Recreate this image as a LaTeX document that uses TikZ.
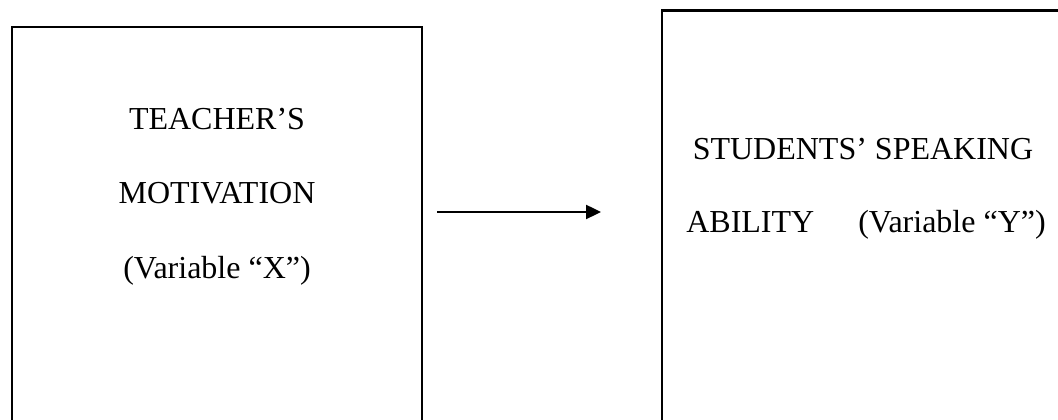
\documentclass[tikz,border=0pt]{standalone}
\usepackage{fontspec}
\setmainfont{Liberation Serif}
\usetikzlibrary{arrows.meta}
\tikzset{
  varbox/.style={draw=black, line width=2.3pt, rectangle, inner sep=0pt, anchor=north west},
  lbl/.style={anchor=base, inner sep=0pt, font=\fontsize{32}{38}\selectfont},
  link/.style={line width=2.4pt, -{Triangle[length=15pt,width=14pt]}}
}
\begin{document}
\begin{tikzpicture}[x=1pt,y=1pt]
\useasboundingbox (0,0) rectangle (1058,420);
\clip (0,0) rectangle (1058,420);
\fill[white] (0,0) rectangle (1058,420);
\node[varbox, minimum width=410pt, minimum height=440pt] (L) at (10.5,394) {};
\node[varbox, minimum width=440pt, minimum height=460pt] (R) at (661,410.5) {};
\node[lbl] (l1) at (217,290) {TEACHER’S};
\node[lbl] (l2) at (217,216) {MOTIVATION};
\node[lbl] (l3) at (217,141) {(Variable “X”)};
\node[lbl] (r1) at (863,260) {STUDENTS’ SPEAKING};
\node[lbl] (r2) at (866,187) {ABILITY\hspace{44pt}(Variable “Y”)};
\coordinate (a1) at (437,208);
\coordinate (a2) at (601,208);
\draw[link] (a1) -- (a2);
\end{tikzpicture}
\end{document}
